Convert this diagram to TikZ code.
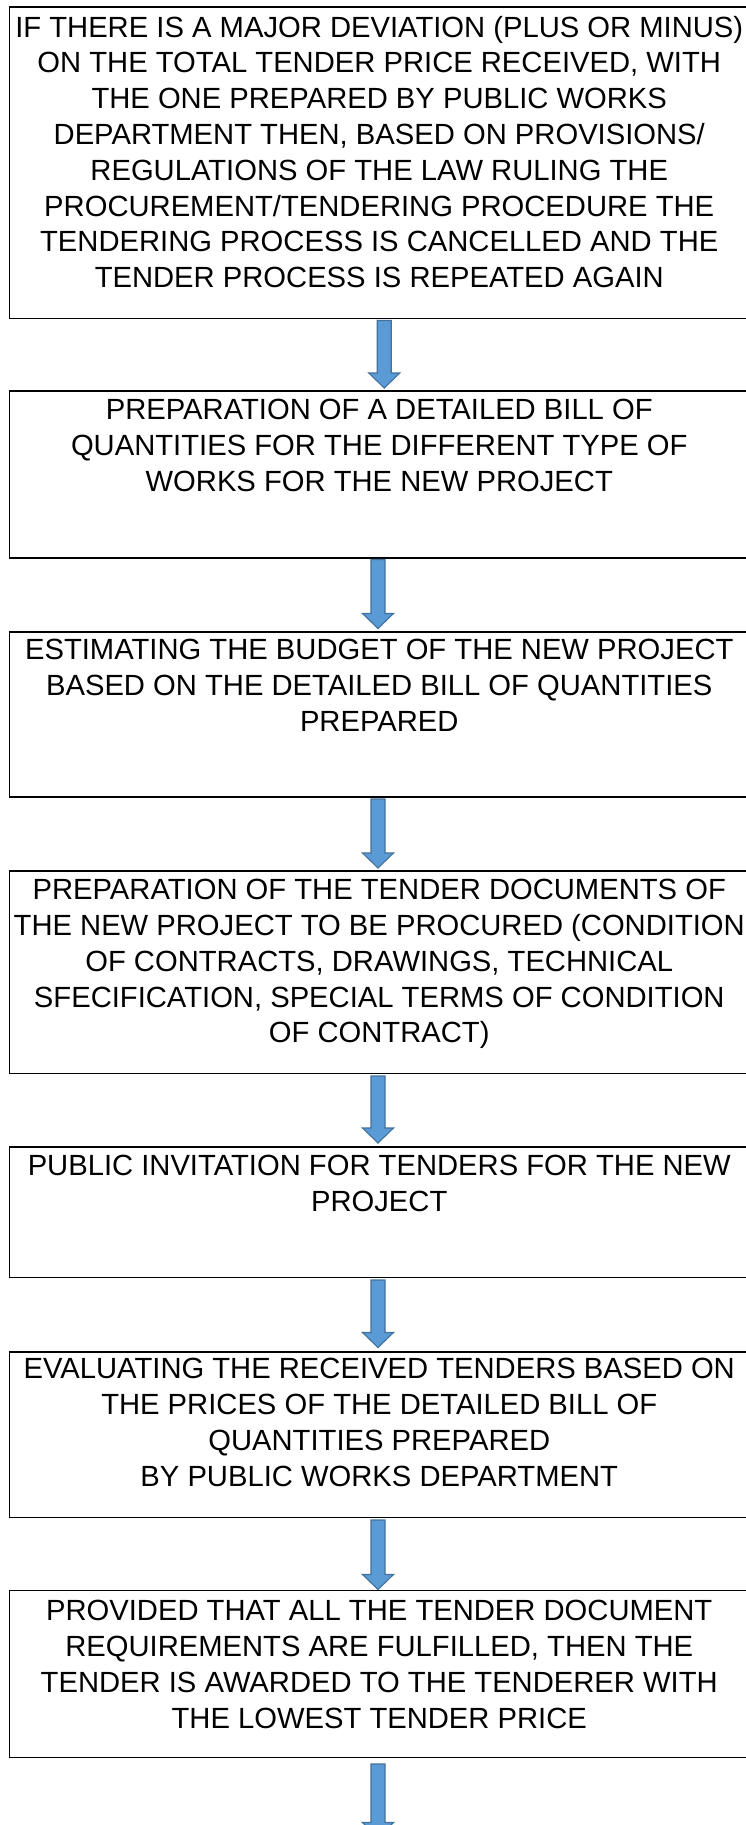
\documentclass[tikz,border=0pt]{standalone}
\usepackage{fontspec}
\setmainfont{Liberation Sans}
\usetikzlibrary{calc}
\definecolor{arrfill}{RGB}{91,155,213}
\definecolor{arrline}{RGB}{65,113,156}
\tikzset{
  boxsty/.style={draw=black, line width=1.6pt, fill=none, rectangle, inner sep=0pt, outer sep=0pt, minimum width=739.5pt},
  txtsty/.style={anchor=north, inner sep=0pt, align=center, font=\fontsize{29.2}{35.8}\selectfont},
  blockarr/.style={fill=arrfill, draw=arrline, line width=1.1pt, line join=miter}
}
\newcommand\flowarrow[2]{%
  \draw[blockarr] let \p1=(#1), \p2=(#2) in
    (\x1-7pt,\y1) -- (\x1+7pt,\y1) -- (\x1+7pt,\y2+15pt) -- (\x1+15.5pt,\y2+15pt)
    -- (\x1,\y2) -- (\x1-15.5pt,\y2+15pt) -- (\x1-7pt,\y2+15pt) -- cycle;}
\begin{document}
\begin{tikzpicture}[x=1pt,y=-1pt]
\useasboundingbox[fill=white] (0,0) rectangle (746,1825);

\node[boxsty, minimum height=311.2pt] (b1) at (379.25,162.9) {};
\node[boxsty, minimum height=167pt] (b2) at (379.25,474.5) {};
\node[boxsty, minimum height=165pt] (b3) at (379.25,714.5) {};
\node[boxsty, minimum height=202.5pt] (b4) at (379.25,972.25) {};
\node[boxsty, minimum height=130.5pt] (b5) at (379.25,1212.25) {};
\node[boxsty, minimum height=165.5pt] (b6) at (379.25,1434.75) {};
\node[boxsty, minimum height=167pt] (b7) at (379.25,1674) {};

\node[txtsty] (t1) at ($(b1.north)+(0,4.5)$) {\strut IF THERE IS A MAJOR DEVIATION (PLUS OR MINUS)\\ON THE TOTAL TENDER PRICE RECEIVED, WITH\\THE ONE PREPARED BY PUBLIC WORKS\\DEPARTMENT THEN, BASED ON PROVISIONS/\\REGULATIONS OF THE LAW RULING THE\\PROCUREMENT/TENDERING PROCEDURE THE\\TENDERING PROCESS IS CANCELLED AND THE\\TENDER PROCESS IS REPEATED AGAIN};
\node[txtsty] (t2) at ($(b2.north)+(0,3.5)$) {\strut PREPARATION OF A DETAILED BILL OF\\QUANTITIES FOR THE DIFFERENT TYPE OF\\WORKS FOR THE NEW PROJECT};
\node[txtsty] (t3) at ($(b3.north)+(0,2.5)$) {\strut ESTIMATING THE BUDGET OF THE NEW PROJECT\\BASED ON THE DETAILED BILL OF QUANTITIES\\PREPARED};
\node[txtsty] (t4) at ($(b4.north)+(0,3.5)$) {\strut PREPARATION OF THE TENDER DOCUMENTS OF\\THE NEW PROJECT TO BE PROCURED (CONDITION\\OF CONTRACTS, DRAWINGS, TECHNICAL\\SFECIFICATION, SPECIAL TERMS OF CONDITION\\OF CONTRACT)};
\node[txtsty] (t5) at ($(b5.north)+(0,3)$) {\strut PUBLIC INVITATION FOR TENDERS FOR THE NEW\\PROJECT};
\node[txtsty] (t6) at ($(b6.north)+(0,1.5)$) {\strut EVALUATING THE RECEIVED TENDERS BASED ON\\THE PRICES OF THE DETAILED BILL OF\\QUANTITIES PREPARED\\BY PUBLIC WORKS DEPARTMENT};
\node[txtsty] (t7) at ($(b7.north)+(0,5)$) {\strut PROVIDED THAT ALL THE TENDER DOCUMENT\\REQUIREMENTS ARE FULFILLED, THEN THE\\TENDER IS AWARDED TO THE TENDERER WITH\\THE LOWEST TENDER PRICE};

\coordinate (endpt) at ($(b7.south)+(-1.25,80)$);

\flowarrow{$(b1.south)+(5,2)$}{$(b2.north)+(5,-3)$}
\flowarrow{$(b2.south)+(-1.25,1.5)$}{$(b3.north)+(-1.25,-3.5)$}
\flowarrow{$(b3.south)+(-1.25,2)$}{$(b4.north)+(-1.25,-3)$}
\flowarrow{$(b4.south)+(-1.25,2.5)$}{$(b5.north)+(-1.25,-4)$}
\flowarrow{$(b5.south)+(-1.25,2.5)$}{$(b6.north)+(-1.25,-4.5)$}
\flowarrow{$(b6.south)+(-1.25,2.5)$}{$(b7.north)+(-1.25,-1)$}
\flowarrow{$(b7.south)+(-1.25,6.5)$}{endpt}
\end{tikzpicture}
\end{document}
